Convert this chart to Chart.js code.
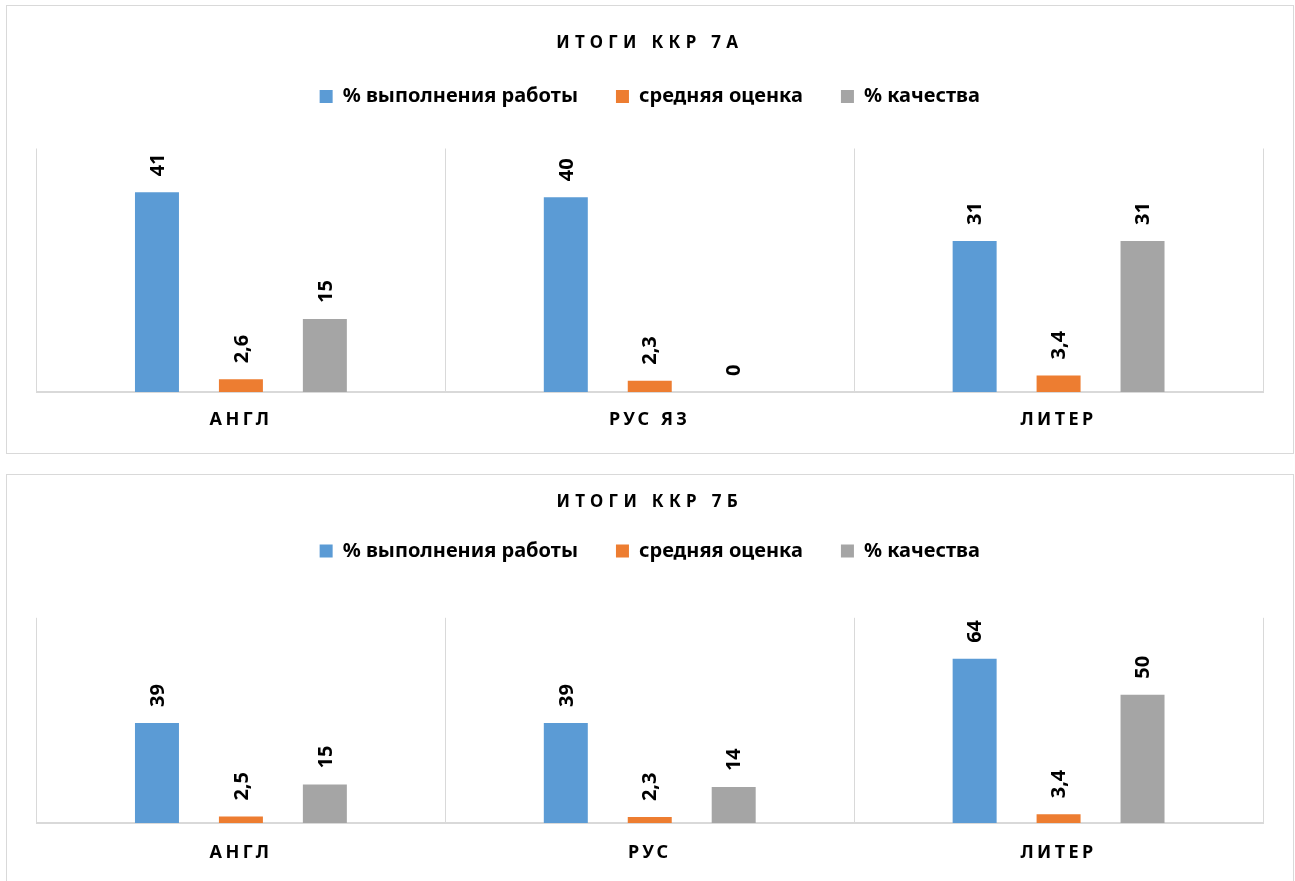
<!DOCTYPE html>
<html>

<head>
    <meta charset="utf-8">
    <title>Итоги ККР 7А / 7Б</title>
    <script src="https://cdn.jsdelivr.net/npm/chart.js"></script>
    <style>
        body { margin: 0; background: #fff; overflow: hidden; }
        .box { position: absolute; left: 6px; width: 1288px; border: 1px solid #d9d9d9; box-sizing: border-box; }
        #box7a { top: 5px; height: 449px; }
        #box7b { top: 474px; height: 430px; }
    </style>
</head>

<body>
    <div class="box" id="box7a"><canvas id="chart7a"></canvas></div>
    <div class="box" id="box7b"><canvas id="chart7b"></canvas></div>

    <script>
        const seriesNames = ['% выполнения работы', 'средняя оценка', '% качества'];
        const seriesColors = ['#5B9BD5', '#ED7D31', '#A5A5A5'];

        // 7А
        const subjects7a = ['АНГЛ', 'РУС ЯЗ', 'ЛИТЕР'];
        const done7a = [41, 40, 31];
        const avg7a = [2.6, 2.3, 3.4];
        const quality7a = [15, 0, 31];

        // 7Б
        const subjects7b = ['АНГЛ', 'РУС', 'ЛИТЕР'];
        const done7b = [39, 39, 64];
        const avg7b = [2.5, 2.3, 3.4];
        const quality7b = [15, 14, 50];

        const FONT = '"Noto Sans"';

        // vertical value labels above each bar
        const valueLabels = {
            id: 'valueLabels',
            afterDatasetsDraw(chart) {
                const ctx = chart.ctx;
                ctx.save();
                ctx.font = 'bold 20px ' + FONT;
                ctx.fillStyle = '#000';
                ctx.textAlign = 'left';
                ctx.textBaseline = 'middle';
                chart.data.datasets.forEach((ds, i) => {
                    chart.getDatasetMeta(i).data.forEach((bar, j) => {
                        ctx.save();
                        ctx.translate(bar.x + 1, bar.y - 16);
                        ctx.rotate(-Math.PI / 2);
                        ctx.fillText(String(ds.data[j]).replace('.', ','), 0, 0);
                        ctx.restore();
                    });
                });
                ctx.restore();
            }
        };

        function withSpacing(obj, method, spacing) {
            const orig = obj[method];
            obj[method] = function (...args) {
                const ctx = this.ctx;
                ctx.save();
                ctx.letterSpacing = spacing + 'px';
                orig.apply(this, args);
                ctx.restore();
            };
        }

        // letter spaced title / category labels, extra room under legend
        const tweaks = {
            id: 'tweaks',
            beforeLayout(chart, args, opts) {
                if (chart._tweaked) return;
                chart._tweaked = true;
                const fit = chart.legend.fit;
                chart.legend.fit = function () { fit.call(this); this.height += opts.legendGap; };
                withSpacing(chart.titleBlock, 'draw', opts.titleSpacing);
                withSpacing(chart.scales.x, 'drawLabels', opts.tickSpacing);
            }
        };

        function makeChart(id, title, subjects, done, avg, quality, yMax, lay) {
            const values = [done, avg, quality];
            new Chart(document.getElementById(id), {
                type: 'bar',
                data: {
                    labels: subjects,
                    datasets: seriesNames.map((name, i) => ({
                        label: name,
                        data: values[i],
                        backgroundColor: seriesColors[i],
                        borderWidth: 0,
                        categoryPercentage: 0.616,
                        barPercentage: 0.524
                    }))
                },
                options: {
                    responsive: true,
                    maintainAspectRatio: false,
                    animation: false,
                    layout: { padding: { top: 0, left: 29.5, right: 30, bottom: lay.bottom } },
                    plugins: {
                        title: {
                            display: true,
                            text: title,
                            color: '#000',
                            font: { family: FONT, size: 17, weight: 'bold', lineHeight: 1.2 },
                            padding: { top: lay.titleTop, bottom: lay.titleBottom }
                        },
                        legend: {
                            position: 'top',
                            labels: {
                                boxWidth: 13,
                                boxHeight: 13,
                                padding: 38,
                                color: '#000',
                                font: { family: FONT, size: 20, weight: 'bold' }
                            }
                        },
                        tooltip: { enabled: false },
                        tweaks: { legendGap: lay.legendGap, titleSpacing: 5.3, tickSpacing: 3.4 }
                    },
                    scales: {
                        x: {
                            grid: { display: true, offset: true, color: '#d9d9d9', drawTicks: false },
                            border: { display: true, color: '#d9d9d9', width: 2 },
                            ticks: {
                                color: '#000',
                                padding: lay.tickPad,
                                font: { family: FONT, size: 18, weight: 'bold', lineHeight: 1.2 }
                            }
                        },
                        y: { display: false, min: 0, max: yMax }
                    }
                },
                plugins: [valueLabels, tweaks]
            });
        }

        makeChart('chart7a', 'ИТОГИ ККР 7А', subjects7a, done7a, avg7a, quality7a, 50,
            { titleTop: 26.6, titleBottom: -4.5, legendGap: 32, tickPad: 17.4, bottom: 4.6 });
        makeChart('chart7b', 'ИТОГИ ККР 7Б', subjects7b, done7b, avg7b, quality7b, 80,
            { titleTop: 16.8, titleBottom: -9.2, legendGap: 46.8, tickPad: 19.4, bottom: 19.6 });
    </script>
</body>

</html>
